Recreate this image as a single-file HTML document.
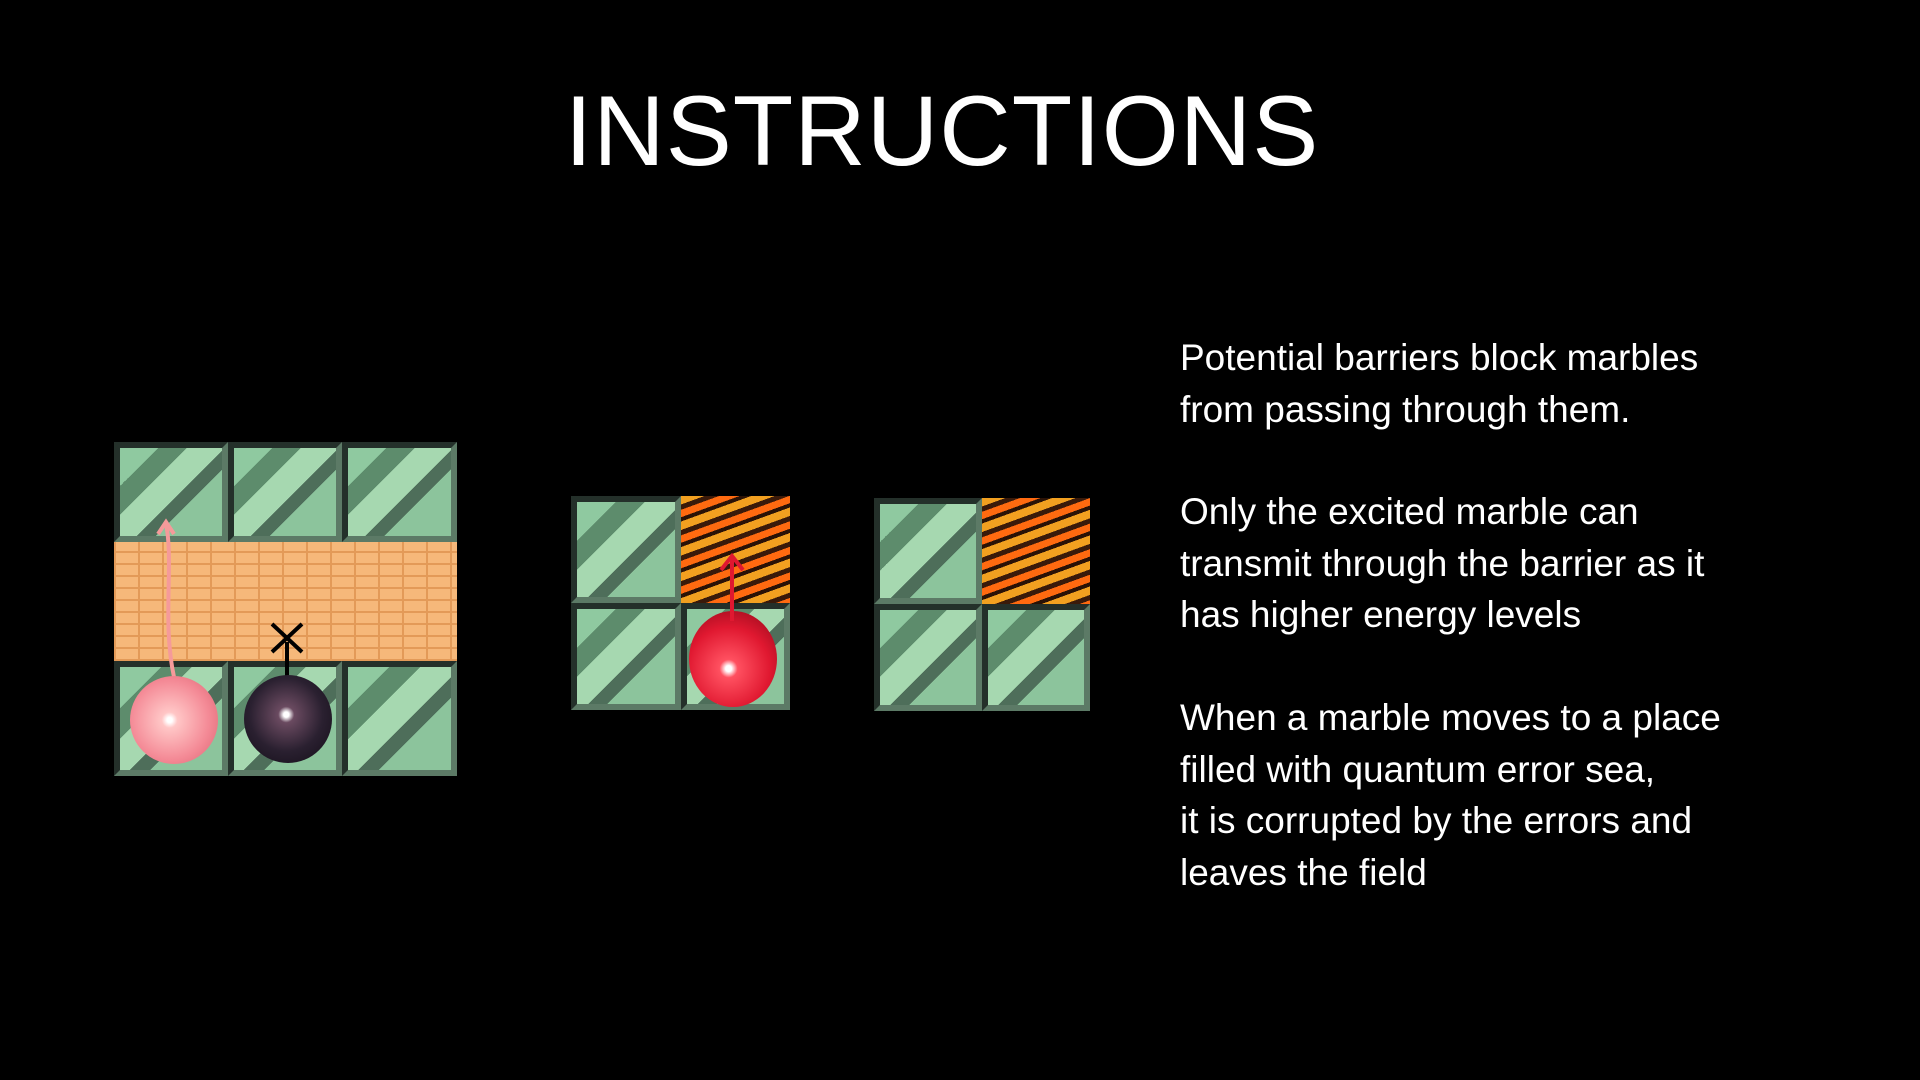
<!DOCTYPE html>
<html><head><meta charset="utf-8"><style>
body{margin:0;width:1920px;height:1080px;background:#000;overflow:hidden;position:relative;font-family:"Liberation Sans",sans-serif;}
.title{position:absolute;left:-18px;width:1920px;top:74px;text-align:center;color:#fff;font-size:99px;letter-spacing:1px;}
.panel{position:absolute;background:#6fa684;overflow:hidden;}
.tile{position:absolute;box-sizing:border-box;border:6px solid #24302a;border-right-color:#5c7a66;border-bottom-color:#5c7a66;
background:linear-gradient(135deg,#8fc9a0 0 20%,#5d8c6c 20% 35%,#a6d8b0 35% 55%,#4e6e5a 55% 65%,#8cc49c 65% 100%);}
.lava{position:absolute;background:repeating-linear-gradient(160deg,#f2a020 0 8px,#3a1a0a 8px 13px,#ff6a10 13px 20px,#2a1206 20px 24px);}
.brick{position:absolute;background-color:#f6b87a;background-image:repeating-linear-gradient(0deg,#e39a58 0 2px,transparent 2px 12px),repeating-linear-gradient(90deg,#e39a58 0 2px,transparent 2px 24px);}
.ball{position:absolute;border-radius:50%;}
.txt{position:absolute;left:1180px;color:#fff;font-size:37px;line-height:51.5px;white-space:nowrap;}
</style></head><body>
<div class="title">INSTRUCTIONS</div>

<div class="panel" style="left:114px;top:442px;width:343px;height:334px;">
  <div class="tile" style="left:0;top:0;width:114px;height:100px"></div>
  <div class="tile" style="left:114px;top:0;width:114px;height:100px"></div>
  <div class="tile" style="left:228px;top:0;width:115px;height:100px"></div>
  <div class="brick" style="left:0;top:100px;width:343px;height:119px"></div>
  <div class="tile" style="left:0;top:219px;width:114px;height:115px"></div>
  <div class="tile" style="left:114px;top:219px;width:114px;height:115px"></div>
  <div class="tile" style="left:228px;top:219px;width:115px;height:115px"></div>
  <svg style="position:absolute;left:0;top:0" width="343" height="334">
    <path d="M60 235 C48 180 60 120 52 82" stroke="#f59a9a" stroke-width="4" fill="none"/>
    <path d="M44 92 L52 80 L60 92" stroke="#f59a9a" stroke-width="4" fill="none"/>
    <line x1="173" y1="200" x2="173" y2="235" stroke="#000" stroke-width="4"/>
    <path d="M158 182 L188 210 M188 182 L158 210" stroke="#000" stroke-width="4"/>
  </svg>
  <div class="ball" style="left:16px;top:234px;width:88px;height:88px;background:radial-gradient(circle at 45% 50%,#fff 0 4%,#ffc6c6 12%,#f48a96 60%,#d9606e 100%);"></div>
  <div class="ball" style="left:130px;top:233px;width:88px;height:88px;background:radial-gradient(circle at 48% 45%,#fff 0 4%,#6a4a60 12%,#2a2030 55%,#120c16 100%);"></div>
</div>

<div class="panel" style="left:571px;top:496px;width:219px;height:214px;">
  <div class="tile" style="left:0;top:0;width:110px;height:107px"></div>
  <div class="lava" style="left:110px;top:0;width:109px;height:107px"></div>
  <div class="tile" style="left:0;top:107px;width:110px;height:107px"></div>
  <div class="tile" style="left:110px;top:107px;width:109px;height:107px"></div>
  <div class="ball" style="left:118px;top:115px;width:88px;height:96px;background:radial-gradient(circle at 45% 60%,#fff 0 4%,#ff5060 12%,#e01830 55%,#8a0818 100%);"></div>
  <svg style="position:absolute;left:0;top:0" width="219" height="214">
    <line x1="161" y1="125" x2="161" y2="62" stroke="#e01830" stroke-width="4"/>
    <path d="M150 74 L161 60 L172 74" stroke="#e01830" stroke-width="4" fill="none"/>
  </svg>
</div>

<div class="panel" style="left:874px;top:498px;width:216px;height:213px;">
  <div class="tile" style="left:0;top:0;width:108px;height:106px"></div>
  <div class="lava" style="left:108px;top:0;width:108px;height:106px"></div>
  <div class="tile" style="left:0;top:106px;width:108px;height:107px"></div>
  <div class="tile" style="left:108px;top:106px;width:108px;height:107px"></div>
</div>

<div class="txt" style="top:332px">Potential barriers block marbles<br>from passing through them.</div>
<div class="txt" style="top:486px">Only the excited marble can<br>transmit through the barrier as it<br>has higher energy levels</div>
<div class="txt" style="top:692px">When a marble moves to a place<br>filled with quantum error sea,<br>it is corrupted by the errors and<br>leaves the field</div>
</body></html>
